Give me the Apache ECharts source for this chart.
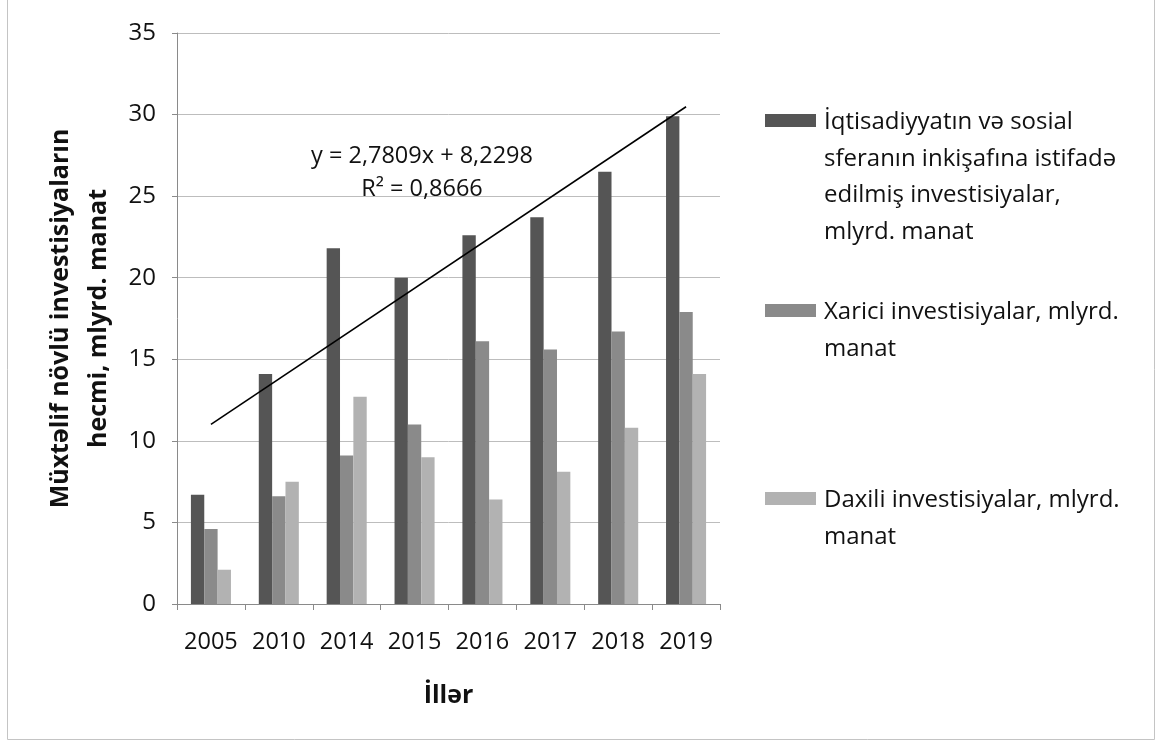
<!DOCTYPE html>
<html>
<head>
<meta charset="utf-8">
<script src="https://cdn.jsdelivr.net/npm/echarts@6/dist/echarts.min.js"></script>
<style>
html,body{margin:0;padding:0;background:#fff;}
#chart{width:1156px;height:744px;}
</style>
</head>
<body>
<div id="chart"></div>
<script>
// ---- data ----
const years = ['2005','2010','2014','2015','2016','2017','2018','2019'];
const seriesNames = [
  'İqtisadiyyatın və sosial\nsferanın inkişafına istifadə\nedilmiş investisiyalar,\nmlyrd. manat',
  'Xarici investisiyalar, mlyrd.\nmanat',
  'Daxili investisiyalar, mlyrd.\nmanat'
];
const totalInvest = [6.7, 14.1, 21.8, 20.0, 22.6, 23.7, 26.5, 29.9];
const foreignInvest = [4.6, 6.6, 9.1, 11.0, 16.1, 15.6, 16.7, 17.9];
const domesticInvest = [2.1, 7.5, 12.7, 9.0, 6.4, 8.1, 10.8, 14.1];
// linear trendline end points (y = 2,7809x + 8,2298 at x=1 and x=8)
const trendValues = [11.01, null, null, null, null, null, null, 30.48];
const trendText = 'y = 2,7809x + 8,2298\nR² = 0,8666';
const yTicks = [0, 5, 10, 15, 20, 25, 30, 35];
const yName = 'Müxtəlif növlü investisiyaların\nhecmi, mlyrd. manat';
const xName = 'İllər';

const colors = ['#555555', '#8a8a8a', '#b2b2b2'];
const font = '"Open Sans", "Noto Sans", sans-serif';
const txt = '#111111';

const chart = echarts.init(document.getElementById('chart'));

const legendTextTops = [104, 294, 482];
const legendIconTops = [114, 304, 492];
const graphics = [
  {type: 'rect', left: 5, top: -10, silent: true,
   shape: {width: 1147, height: 747},
   style: {fill: 'none', stroke: '#c4c4c4', lineWidth: 1}}
];
seriesNames.forEach((n, i) => {
  graphics.push({
    type: 'rect', left: 765, top: legendIconTops[i],
    shape: {width: 51, height: 13}, style: {fill: colors[i]}
  });
  graphics.push({
    type: 'text', left: 824, top: legendTextTops[i],
    style: {text: n, font: '24px ' + font, fill: txt, lineHeight: 36.5}
  });
});

chart.setOption({
  backgroundColor: '#ffffff',
  animation: false,
  textStyle: {fontFamily: font},
  grid: {left: 177, right: 436, top: 33, bottom: 140},
  title: {
    text: trendText,
    left: 417, top: 135, textAlign: 'center',
    textStyle: {fontFamily: font, fontSize: 23.5, fontWeight: 'normal', color: txt, lineHeight: 33, align: 'center'}
  },
  graphic: graphics,
  xAxis: {
    type: 'category',
    data: years,
    name: xName,
    nameLocation: 'middle',
    nameGap: 79,
    nameTextStyle: {fontFamily: font, fontSize: 25, fontWeight: 'bold', color: txt},
    axisLine: {lineStyle: {color: '#8a8a8a', width: 1}},
    axisTick: {show: true, length: 6, lineStyle: {color: '#8a8a8a'}},
    axisLabel: {fontFamily: font, fontSize: 23.5, color: txt, margin: 26, interval: 0, hideOverlap: false}
  },
  yAxis: {
    type: 'value',
    min: yTicks[0], max: yTicks[yTicks.length - 1], interval: 5,
    name: yName,
    nameLocation: 'middle',
    nameGap: 59,
    nameTextStyle: {fontFamily: font, fontSize: 25, fontWeight: 'bold', color: txt, lineHeight: 38, align: 'center'},
    axisLine: {show: true, lineStyle: {color: '#8a8a8a', width: 1}},
    axisTick: {show: true, length: 5, lineStyle: {color: '#8a8a8a'}},
    axisLabel: {fontFamily: font, fontSize: 24, color: txt, margin: 21},
    splitLine: {lineStyle: {color: '#bdbdbd', width: 1}}
  },
  series: [
    {name: seriesNames[0], type: 'bar', data: totalInvest, itemStyle: {color: colors[0]}, barGap: '0%', barCategoryGap: '41%'},
    {name: seriesNames[1], type: 'bar', data: foreignInvest, itemStyle: {color: colors[1]}, barGap: '0%', barCategoryGap: '41%'},
    {name: seriesNames[2], type: 'bar', data: domesticInvest, itemStyle: {color: colors[2]}, barGap: '0%', barCategoryGap: '41%'},
    {name: 'Trend', type: 'line', data: trendValues, connectNulls: true, symbol: 'none',
     lineStyle: {color: '#000', width: 1.6}, z: 5}
  ]
});
</script>
</body>
</html>
